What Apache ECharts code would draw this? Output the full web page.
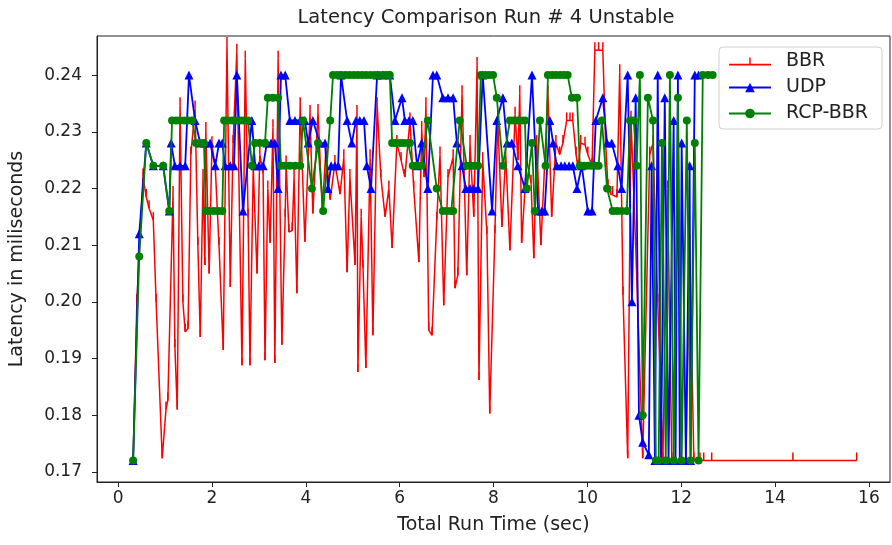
<!DOCTYPE html>
<html>
<head>
<meta charset="utf-8">
<title>Latency Comparison Run # 4 Unstable</title>
<script src="https://cdn.jsdelivr.net/npm/echarts@6/dist/echarts.min.js"></script>
<style>
  html, body { margin: 0; padding: 0; background: #fff; }
  #chart { width: 892px; height: 545px; }
</style>
</head>
<body>
<div id="chart"></div>
<script>
// Tick positions for both axes
const xTicks = [0, 2, 4, 6, 8, 10, 12, 14, 16];
const yTicks = [0.17, 0.18, 0.19, 0.20, 0.21, 0.22, 0.23, 0.24];

// BBR latency samples (time in seconds, latency in ms)
const bbrTime = [
  0.32, 0.40, 0.53, 0.60, 0.66, 0.75, 0.81, 0.94, 1.02, 1.06,
  1.17, 1.21, 1.26, 1.32, 1.38, 1.43, 1.49, 1.55, 1.64, 1.70,
  1.75, 1.81, 1.85, 1.87, 1.94, 2.00, 2.07, 2.15, 2.24, 2.32,
  2.39, 2.45, 2.53, 2.64, 2.71, 2.77, 2.81, 2.88, 2.96, 3.02,
  3.09, 3.13, 3.19, 3.24, 3.30, 3.34, 3.41, 3.49, 3.56, 3.58,
  3.64, 3.71, 3.75, 3.81, 3.88, 3.98, 4.09, 4.15, 4.26, 4.35,
  4.43, 4.52, 4.62, 4.73, 4.81, 4.88, 4.94, 5.05, 5.09, 5.11,
  5.18, 5.22, 5.28, 5.37, 5.43, 5.52, 5.60, 5.69, 5.77, 5.84,
  5.94, 6.03, 6.11, 6.22, 6.30, 6.41, 6.47, 6.52, 6.56, 6.62,
  6.69, 6.79, 6.86, 6.94, 7.03, 7.14, 7.18, 7.24, 7.33, 7.43,
  7.50, 7.58, 7.65, 7.69, 7.77, 7.86, 7.92, 8.03, 8.09, 8.18,
  8.26, 8.35, 8.46, 8.52, 8.56, 8.60, 8.71, 8.80, 8.86, 8.92,
  9.01, 9.16, 9.24, 9.33, 9.41, 9.48, 9.56, 9.63, 9.69, 9.76,
  9.80, 9.86, 9.95, 10.01, 10.10, 10.16, 10.24, 10.33, 10.39, 10.44,
  10.50, 10.54, 10.63, 10.69, 10.76, 10.86, 10.93, 11.03, 11.18, 11.33,
  11.40, 11.50, 11.61, 11.71, 11.80, 11.97, 12.10, 12.18, 12.27, 12.40,
  12.48, 12.65, 14.38, 15.74
];
const bbrLatency = [
  0.1720, 0.2000, 0.2221, 0.2185, 0.2165, 0.2144, 0.2000, 0.1724, 0.1810, 0.1826,
  0.2190, 0.1920, 0.1810, 0.2347, 0.2000, 0.1947, 0.1953, 0.2260, 0.2341, 0.2100,
  0.1938, 0.2220, 0.2065, 0.2303, 0.2050, 0.2278, 0.2238, 0.2100, 0.1915, 0.2453,
  0.2026, 0.2280, 0.2441, 0.1888, 0.2429, 0.2150, 0.1888, 0.2238, 0.2050, 0.2260,
  0.2227, 0.1897, 0.2200, 0.2104, 0.2308, 0.1892, 0.2429, 0.1924, 0.2150, 0.2244,
  0.2123, 0.2126, 0.2220, 0.2015, 0.2347, 0.2106, 0.2333, 0.2156, 0.2335, 0.2165,
  0.2268, 0.2180, 0.2245, 0.2190, 0.2255, 0.2052, 0.2220, 0.2065, 0.2333, 0.1876,
  0.2150, 0.2060, 0.1883, 0.2255, 0.1941, 0.2347, 0.2220, 0.2150, 0.2200, 0.2095,
  0.2280, 0.2250, 0.2220, 0.2320, 0.2200, 0.2070, 0.2305, 0.2220, 0.2347, 0.1950,
  0.1941, 0.2144, 0.2260, 0.1994, 0.2220, 0.2255, 0.2024, 0.2047, 0.2368, 0.2047,
  0.2280, 0.2150, 0.2418, 0.1862, 0.2250, 0.2120, 0.1803, 0.2121, 0.2324, 0.2132,
  0.2260, 0.2091, 0.2330, 0.2250, 0.2368, 0.2104, 0.2250, 0.2210, 0.2077, 0.2280,
  0.2100, 0.2368, 0.2150, 0.2280, 0.2260, 0.2280, 0.2320, 0.2320, 0.2320, 0.2260,
  0.2236, 0.2280, 0.2277, 0.2260, 0.2240, 0.2444, 0.2444, 0.2444, 0.2280, 0.2202,
  0.2190, 0.2190, 0.2185, 0.2405, 0.2013, 0.1724, 0.2323, 0.2100, 0.1724, 0.2260,
  0.2280, 0.2000, 0.1720, 0.2200, 0.1720, 0.1720, 0.1720, 0.2107, 0.1720, 0.1720,
  0.1720, 0.1720, 0.1720, 0.1720
];

// UDP latency samples
const udpTime = [
  0.32, 0.45, 0.60, 0.75, 0.96, 1.09, 1.13, 1.21, 1.32, 1.43,
  1.51, 1.64, 1.75, 1.85, 1.96, 2.07, 2.15, 2.22, 2.28, 2.39,
  2.47, 2.53, 2.66, 2.85, 2.92, 3.00, 3.09, 3.17, 3.26, 3.34,
  3.41, 3.47, 3.56, 3.66, 3.77, 3.88, 3.98, 4.05, 4.15, 4.30,
  4.41, 4.47, 4.54, 4.62, 4.69, 4.75, 4.88, 4.98, 5.07, 5.15,
  5.24, 5.30, 5.39, 5.52, 5.64, 5.79, 5.90, 6.05, 6.11, 6.20,
  6.28, 6.37, 6.47, 6.60, 6.71, 6.79, 6.92, 7.03, 7.14, 7.22,
  7.33, 7.41, 7.50, 7.58, 7.67, 7.77, 7.97, 8.07, 8.20, 8.29,
  8.39, 8.52, 8.67, 8.82, 8.95, 9.03, 9.09, 9.20, 9.27, 9.35,
  9.44, 9.52, 9.61, 9.69, 9.78, 9.88, 10.01, 10.10, 10.18, 10.33,
  10.42, 10.52, 10.65, 10.73, 10.86, 10.95, 11.03, 11.10, 11.18, 11.31,
  11.37, 11.44, 11.50, 11.57, 11.65, 11.73, 11.84, 11.88, 11.93, 11.97,
  12.01, 12.10, 12.18, 12.20, 12.29, 12.37
];
const udpLatency = [
  0.172, 0.212, 0.228, 0.224, 0.224, 0.216, 0.228, 0.224, 0.224, 0.224,
  0.240, 0.232, 0.228, 0.228, 0.228, 0.224, 0.228, 0.228, 0.224, 0.224,
  0.224, 0.240, 0.216, 0.232, 0.224, 0.224, 0.224, 0.228, 0.228, 0.228,
  0.220, 0.240, 0.240, 0.232, 0.232, 0.232, 0.232, 0.228, 0.232, 0.228,
  0.228, 0.220, 0.224, 0.224, 0.224, 0.240, 0.232, 0.228, 0.232, 0.232,
  0.232, 0.224, 0.220, 0.240, 0.240, 0.240, 0.232, 0.236, 0.232, 0.232,
  0.232, 0.224, 0.228, 0.220, 0.240, 0.240, 0.236, 0.236, 0.236, 0.228,
  0.224, 0.220, 0.220, 0.220, 0.220, 0.240, 0.216, 0.232, 0.236, 0.228,
  0.228, 0.224, 0.220, 0.240, 0.216, 0.216, 0.216, 0.232, 0.228, 0.224,
  0.224, 0.224, 0.224, 0.224, 0.220, 0.224, 0.216, 0.216, 0.232, 0.236,
  0.228, 0.228, 0.224, 0.220, 0.240, 0.200, 0.236, 0.180, 0.1752, 0.173,
  0.224, 0.172, 0.240, 0.172, 0.236, 0.172, 0.232, 0.172, 0.240, 0.172,
  0.228, 0.172, 0.224, 0.172, 0.240, 0.240
];

// RCP-BBR latency samples
const rcpTime = [
  0.32, 0.45, 0.60, 0.75, 0.96, 1.09, 1.15, 1.24, 1.32, 1.41,
  1.49, 1.58, 1.66, 1.75, 1.83, 1.87, 1.94, 2.04, 2.13, 2.22,
  2.26, 2.34, 2.43, 2.51, 2.60, 2.68, 2.77, 2.85, 2.92, 3.02,
  3.13, 3.19, 3.30, 3.41, 3.47, 3.56, 3.66, 3.77, 3.88, 3.94,
  4.13, 4.26, 4.37, 4.52, 4.58, 4.67, 4.75, 4.84, 4.93, 5.02,
  5.11, 5.20, 5.29, 5.38, 5.47, 5.56, 5.65, 5.73, 5.79, 5.84,
  5.92, 6.01, 6.09, 6.18, 6.22, 6.28, 6.37, 6.47, 6.60, 6.79,
  6.92, 7.01, 7.10, 7.14, 7.28, 7.43, 7.52, 7.60, 7.67, 7.73,
  7.82, 7.90, 7.99, 8.07, 8.20, 8.35, 8.43, 8.52, 8.60, 8.67,
  8.71, 8.82, 8.88, 8.99, 9.11, 9.16, 9.25, 9.33, 9.42, 9.50,
  9.58, 9.67, 9.78, 9.84, 9.93, 10.01, 10.10, 10.18, 10.24, 10.31,
  10.42, 10.54, 10.63, 10.73, 10.84, 10.91, 10.99, 11.05, 11.12, 11.18,
  11.29, 11.40, 11.46, 11.52, 11.59, 11.67, 11.76, 11.84, 11.93, 12.01,
  12.12, 12.20, 12.29, 12.37, 12.46, 12.57, 12.67
];
const rcpLatency = [
  0.172, 0.208, 0.228, 0.224, 0.224, 0.216, 0.232, 0.232, 0.232, 0.232,
  0.232, 0.232, 0.228, 0.228, 0.228, 0.216, 0.216, 0.216, 0.216, 0.216,
  0.232, 0.232, 0.232, 0.232, 0.232, 0.232, 0.232, 0.224, 0.228, 0.228,
  0.228, 0.236, 0.236, 0.236, 0.224, 0.224, 0.224, 0.224, 0.224, 0.232,
  0.220, 0.228, 0.216, 0.232, 0.240, 0.240, 0.240, 0.240, 0.240, 0.240,
  0.240, 0.240, 0.240, 0.240, 0.240, 0.240, 0.240, 0.240, 0.240, 0.228,
  0.228, 0.228, 0.228, 0.228, 0.228, 0.224, 0.224, 0.224, 0.232, 0.220,
  0.216, 0.216, 0.216, 0.216, 0.232, 0.224, 0.224, 0.224, 0.224, 0.240,
  0.240, 0.240, 0.240, 0.236, 0.224, 0.232, 0.232, 0.232, 0.232, 0.232,
  0.220, 0.228, 0.216, 0.232, 0.224, 0.240, 0.240, 0.240, 0.240, 0.240,
  0.240, 0.236, 0.236, 0.224, 0.224, 0.224, 0.224, 0.224, 0.224, 0.232,
  0.220, 0.216, 0.216, 0.216, 0.216, 0.232, 0.232, 0.224, 0.240, 0.180,
  0.236, 0.232, 0.172, 0.172, 0.228, 0.172, 0.240, 0.172, 0.236, 0.172,
  0.232, 0.172, 0.228, 0.172, 0.240, 0.240, 0.240
];

function pairs(xs, ys) {
  return xs.map((x, i) => [x, ys[i]]);
}

const FONT = 'DejaVu Sans';
const INK = '#222';

// Upward tick marker used on the BBR line, and its legend glyph (line with a tick)
const TICK_UP = 'path://M0,0 L1,0 L1,10 L0,10 Z';
const TICK_LEGEND = 'path://M0,6.2 L42,6.2 L42,7.8 L0,7.8 Z M20.3,0 L21.7,0 L21.7,7 L20.3,7 Z';

const chart = echarts.init(document.getElementById('chart'), null, { renderer: 'canvas' });

chart.setOption({
  animation: false,
  backgroundColor: '#fff',
  textStyle: { fontFamily: FONT, color: INK },
  title: {
    text: 'Latency Comparison Run # 4 Unstable',
    left: 481,
    top: 3,
    textAlign: 'center',
    textStyle: { fontFamily: FONT, fontSize: 19.5, fontWeight: 'normal', color: INK }
  },
  grid: {
    left: 97, right: 2, top: 36, bottom: 63,
    show: true, borderColor: INK, borderWidth: 1, backgroundColor: 'transparent'
  },
  legend: {
    right: 10,
    top: 47,
    orient: 'vertical',
    itemWidth: 42,
    itemHeight: 12,
    itemGap: 7,
    padding: [5, 14, 6, 9],
    backgroundColor: '#fff',
    borderColor: '#d0d0d0',
    borderWidth: 1,
    borderRadius: 4,
    textStyle: { fontFamily: FONT, fontSize: 19, color: INK, padding: [0, 0, 0, 10] },
    data: [
      { name: 'BBR', icon: TICK_LEGEND, itemStyle: { color: '#ff0000' } },
      'UDP',
      'RCP-BBR'
    ]
  },
  xAxis: {
    type: 'value',
    min: -0.45,
    max: 16.45,
    name: 'Total Run Time (sec)',
    nameLocation: 'middle',
    nameGap: 34,
    nameTextStyle: { fontFamily: FONT, fontSize: 19, color: INK },
    axisLine: { show: true, onZero: false, lineStyle: { color: INK, width: 1 } },
    axisTick: { show: true, inside: false, length: 5, lineStyle: { color: INK }, customValues: xTicks },
    axisLabel: {
      fontFamily: FONT, fontSize: 17, color: INK, margin: 8,
      customValues: xTicks,
      formatter: v => String(Math.round(v))
    },
    splitLine: { show: false }
  },
  yAxis: {
    type: 'value',
    min: 0.1682,
    max: 0.2469,
    name: 'Latency in miliseconds',
    nameLocation: 'middle',
    nameGap: 70,
    nameTextStyle: { fontFamily: FONT, fontSize: 19, color: INK },
    axisLine: { show: true, onZero: false, lineStyle: { color: INK, width: 1 } },
    axisTick: { show: true, inside: false, length: 5, lineStyle: { color: INK }, customValues: yTicks },
    axisLabel: {
      fontFamily: FONT, fontSize: 17, color: INK, margin: 15,
      customValues: yTicks,
      formatter: v => v.toFixed(2)
    },
    splitLine: { show: false }
  },
  series: [
    {
      name: 'BBR',
      type: 'line',
      data: pairs(bbrTime, bbrLatency),
      color: '#ff0000',
      lineStyle: { width: 1.5, color: '#ff0000' },
      symbol: TICK_UP,
      symbolSize: [1.5, 8],
      symbolOffset: [0, -4],
      showAllSymbol: true,
      itemStyle: { color: '#ff0000' },
      z: 2
    },
    {
      name: 'UDP',
      type: 'line',
      data: pairs(udpTime, udpLatency),
      color: '#0000ff',
      lineStyle: { width: 1.8, color: '#0000ff' },
      symbol: 'triangle',
      symbolSize: 9,
      showAllSymbol: true,
      itemStyle: { color: '#0000ff' },
      z: 3
    },
    {
      name: 'RCP-BBR',
      type: 'line',
      data: pairs(rcpTime, rcpLatency),
      color: '#008000',
      lineStyle: { width: 1.8, color: '#008000' },
      symbol: 'circle',
      symbolSize: 8,
      showAllSymbol: true,
      itemStyle: { color: '#008000' },
      z: 4
    }
  ]
});
</script>
</body>
</html>
